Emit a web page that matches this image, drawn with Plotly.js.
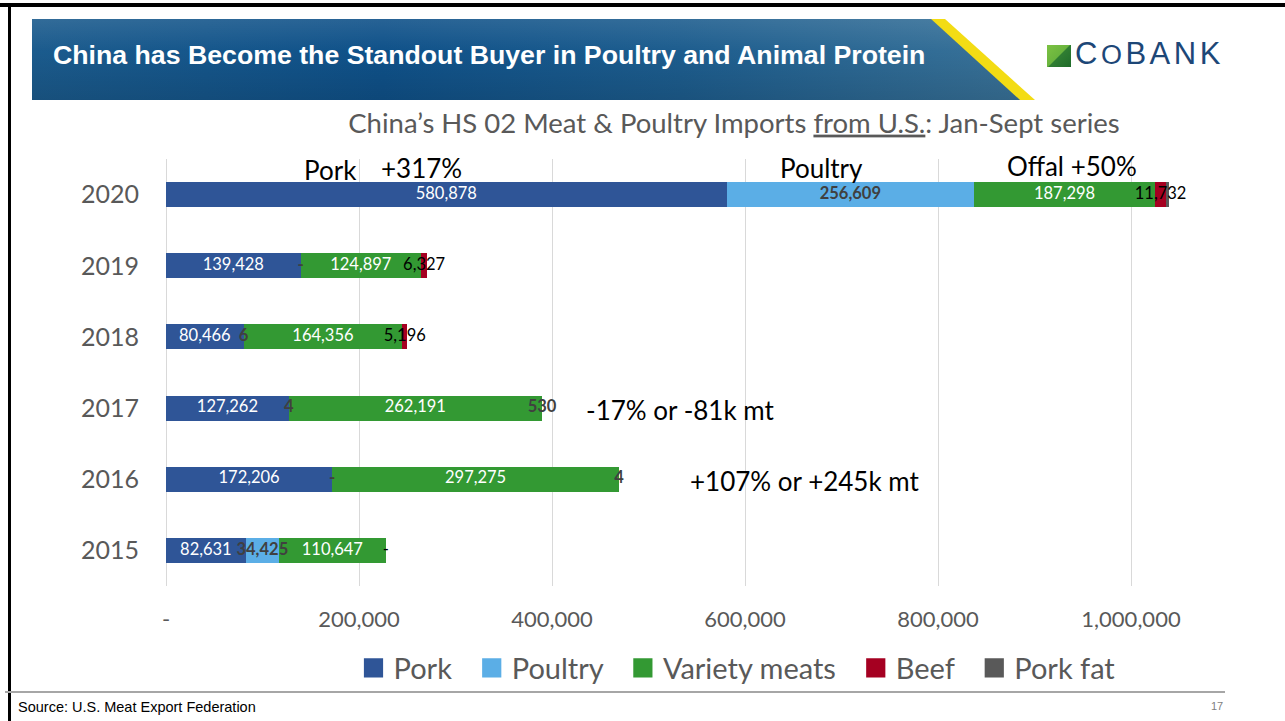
<!DOCTYPE html>
<html>
<head>
<meta charset="utf-8">
<script src="https://cdn.plot.ly/plotly-3.0.1.min.js"></script>
<style>
  html, body { margin:0; padding:0; background:#ffffff; }
  #wrap { position:relative; width:1285px; height:721px; overflow:hidden; background:#fff; }
  #chart { position:absolute; left:0; top:0; width:1285px; height:721px; }
  .ov { position:absolute; pointer-events:none; }
</style>
</head>
<body>
<div id="wrap">
  <div id="chart"></div>
  <!-- slide frame -->
  <div class="ov" style="left:0;top:3px;width:1285px;height:4px;background:#000;"></div>
  <div class="ov" style="left:8px;top:3px;width:3px;height:718px;background:#000;"></div>
  <!-- banner -->
  <div class="ov" style="left:32px;top:19px;width:1010px;height:81px;
       clip-path:polygon(0 0, 913px 0, 1003px 81px, 0 81px);
       background:#f3dc14;"></div>
  <div class="ov" style="left:32px;top:19px;width:1000px;height:81px;
       clip-path:polygon(0 0, 899px 0, 988px 81px, 0 81px);
       background:linear-gradient(90deg,#1b5b8d 0%,#0f5189 35%,#1d5d8e 65%,#3a7399 100%);"></div>
  <div class="ov" style="left:32px;top:19px;width:1000px;height:81px;
       clip-path:polygon(0 0, 899px 0, 988px 81px, 0 81px);
       background:linear-gradient(180deg,rgba(255,255,255,0.10) 0%,rgba(255,255,255,0) 40%,rgba(0,0,0,0.12) 100%);"></div>
  <div class="ov" style="left:53px;top:40px;font-family:'Liberation Sans',Arial,sans-serif;font-weight:bold;font-size:26.7px;color:#ffffff;white-space:nowrap;">China has Become the Standout Buyer in Poultry and Animal Protein</div>
  <!-- logo -->
  <div class="ov" style="left:1047px;top:45px;width:24px;height:22px;
       background:linear-gradient(135deg,#7cc242 0%,#6ab43e 48%,#2f7d32 52%,#1f6b2a 100%);"></div>
  <div class="ov" style="left:1075px;top:36px;font-family:'Liberation Sans',Arial,sans-serif;font-size:31px;color:#1d4777;letter-spacing:3.5px;white-space:nowrap;">C<span style="font-size:27px;">O</span>BANK</div>
  <!-- footer -->
  <div class="ov" style="left:5px;top:691px;width:1220px;height:2px;background:#a6a6a6;"></div>
  <div class="ov" style="left:18px;top:699px;font-family:'Liberation Sans',Arial,sans-serif;font-size:14.5px;color:#000;white-space:nowrap;">Source: U.S. Meat Export Federation</div>
  <div class="ov" style="left:1211px;top:700px;font-family:'Liberation Sans',Arial,sans-serif;font-size:11px;color:#7f7f7f;">17</div>
</div>
<script>
// ---- data ----
const years = ['2015', '2016', '2017', '2018', '2019', '2020'];
const pork = [82631, 172206, 127262, 80466, 139428, 580878];
const poultry = [34425, 0, 4, 6, 0, 256609];
const varietyMeats = [110647, 297275, 262191, 164356, 124897, 187298];
const beef = [0, 0, 0, 5196, 6327, 11732];
const porkFat = [0, 4, 530, 0, 0, 2500];

const porkLabels = ['82,631', '172,206', '127,262', '80,466', '139,428', '580,878'];
const poultryLabels = ['34,425', '-', '4', '6', '-', '256,609'];
const varietyLabels = ['110,647', '297,275', '262,191', '164,356', '124,897', '187,298'];
const beefLabels = ['-', '', '', '5,196', '6,327', '11,732'];
const porkFatLabels = ['', '4', '530', '', '', ''];

const xTickVals = [0, 200000, 400000, 600000, 800000, 1000000];
const xTickText = ['-', '200,000', '400,000', '600,000', '800,000', '1,000,000'];

const seriesNames = ['Pork', 'Poultry', 'Variety meats', 'Beef', 'Pork fat'];
// ---- styles ----
const colors = ['#2f5597', '#5baee6', '#339933', '#a50021', '#595959'];
const labelColors = ['#ffffff', '#404040', '#ffffff', '#000000', '#404040'];
const labelWeights = ['normal', 'bold', 'normal', 'normal', 'bold'];
const FONT = 'Lato, "Open Sans", sans-serif';
const PAD = '\u00a0\u00a0';

const series = [pork, poultry, varietyMeats, beef, porkFat];
const labels = [porkLabels, poultryLabels, varietyLabels, beefLabels, porkFatLabels];

const traces = [];
series.forEach((vals, i) => {
  traces.push({
    type: 'bar', orientation: 'h',
    name: seriesNames[i] + (i < series.length - 1 ? PAD : ''),
    x: vals, y: years,
    marker: { color: colors[i], line: { width: 0 } },
    hoverinfo: 'skip'
  });
});
// labels centered on each segment
const cum = years.map(() => 0);
series.forEach((vals, i) => {
  const centers = vals.map((v, k) => cum[k] + v / 2);
  vals.forEach((v, k) => { cum[k] += v; });
  traces.push({
    type: 'scatter', mode: 'text', showlegend: false, hoverinfo: 'skip',
    x: centers, y: years, text: labels[i], cliponaxis: false,
    textposition: 'middle center',
    textfont: { family: FONT, size: 16.5, color: labelColors[i], weight: labelWeights[i] }
  });
});

const L = 166, R = 15, T = 159, B = 135, W = 1285, H = 721;
const pw = W - L - R, ph = H - T - B;
const px = v => (v - L) / pw;
const py = v => (H - B - v) / ph;

const ann = (text, x, y, size) => ({
  text, xref: 'paper', yref: 'paper', x: px(x), y: py(y),
  xanchor: 'center', yanchor: 'middle', showarrow: false, borderpad: 0,
  font: { family: FONT, size: size || 26, color: '#000000' }
});

const layout = {
  width: W, height: H,
  margin: { l: L, r: R, t: T, b: B, pad: 0 },
  paper_bgcolor: 'rgba(0,0,0,0)', plot_bgcolor: 'rgba(0,0,0,0)',
  barmode: 'stack', bargap: 0.65,
  showlegend: true,
  title: {
    text: 'China’s HS 02 Meat & Poultry Imports <span style="text-decoration:underline">from U.S.</span>: Jan-Sept series',
    x: 734 / W, xanchor: 'center', y: 1 - 123 / H, yanchor: 'middle',
    font: { family: FONT, size: 27.5, color: '#595959' }
  },
  xaxis: {
    range: [0, pw / 0.000965], tickvals: xTickVals, ticktext: xTickText,
    showgrid: true, gridcolor: '#d9d9d9', gridwidth: 1,
    zeroline: true, zerolinecolor: '#d9d9d9', zerolinewidth: 1,
    showline: false, ticks: '', ticklabelstandoff: 18,
    tickfont: { family: FONT, size: 22, color: '#595959' }, fixedrange: true
  },
  yaxis: {
    type: 'category', categoryorder: 'array', categoryarray: years,
    showgrid: false, zeroline: false, showline: false, ticks: '',
    ticklabelstandoff: 26,
    tickfont: { family: FONT, size: 25, color: '#595959' }, fixedrange: true
  },
  legend: {
    orientation: 'h', x: px(737), xanchor: 'center', y: py(668), yanchor: 'middle',
    font: { family: FONT, size: 29, color: '#595959' }, itemwidth: 30,
    traceorder: 'normal', bgcolor: 'rgba(0,0,0,0)'
  },
  annotations: [
    ann('Pork', 330, 170),
    ann('+317%', 421, 168),
    ann('Poultry', 821, 168),
    ann('Offal +50%', 1072, 166),
    ann('-17% or -81k mt', 680, 410),
    ann('+107% or +245k mt', 805, 481)
  ]
};

function bigLegendSwatches() {
  document.querySelectorAll('.legend .legendpoints path').forEach(p => {
    if (!p.hasAttribute('data-orig-tf')) {
      p.setAttribute('data-orig-tf', p.getAttribute('transform') || '');
    }
    p.setAttribute('transform', p.getAttribute('data-orig-tf') + ' scale(1.6)');
  });
}
Plotly.newPlot('chart', traces, layout, { staticPlot: true, displayModeBar: false })
  .then(gd => { bigLegendSwatches(); gd.on('plotly_afterplot', bigLegendSwatches); });
</script>
</body>
</html>
